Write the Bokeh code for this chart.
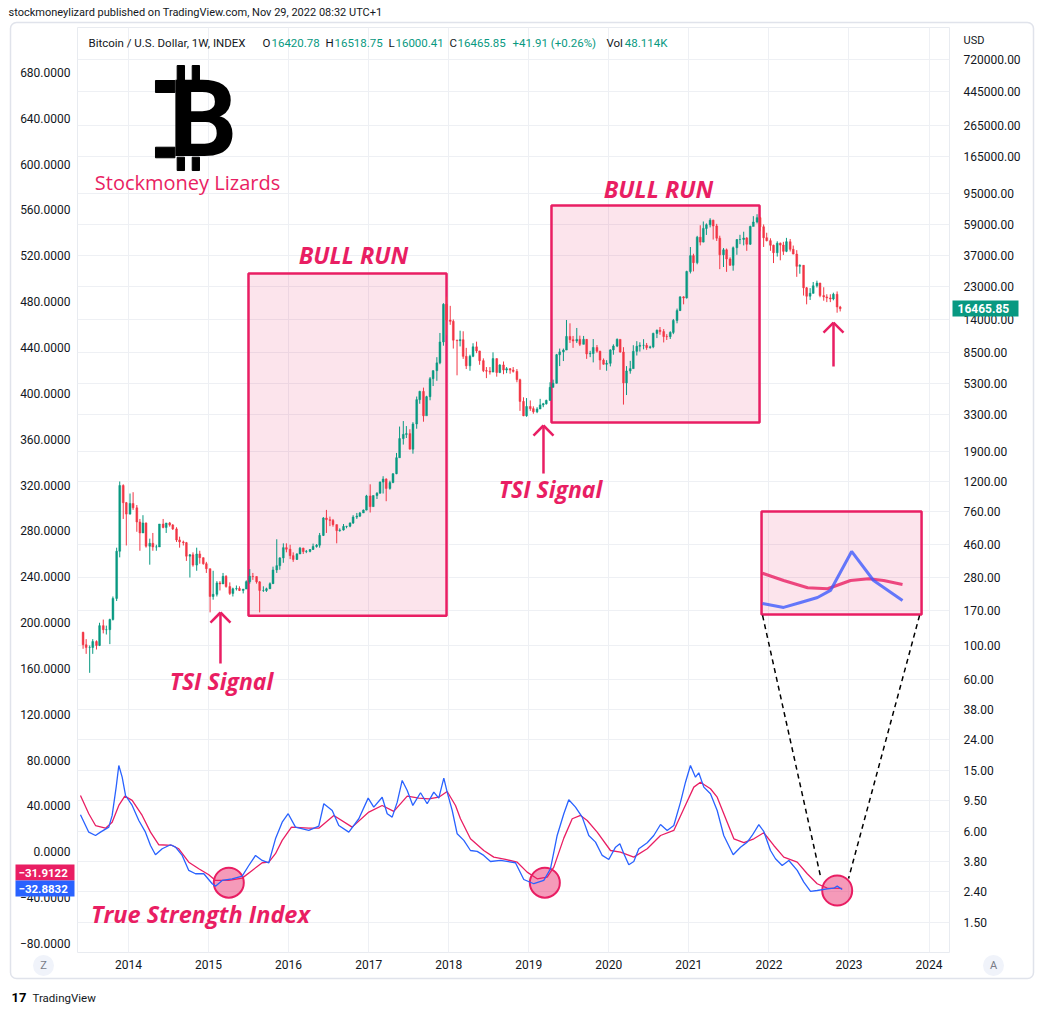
import numpy as np
import pandas as pd
from bokeh.plotting import figure
from bokeh.layouts import column
from bokeh.models import (Range1d, LinearScale, LinearAxis, FixedTicker, PrintfTickFormatter,
                          BoxAnnotation, Label, ColumnDataSource, GridBox)
from bokeh.embed import file_html
from bokeh.resources import INLINE

# ---------------- data ----------------
# semi-monthly OHLC candles (1st / 15th of each month), open = previous close
candle_first_date = "2013-06-01"
candle_first_open = 122.0
candle_high = [
    123, 110, 100, 110, 108, 141, 148, 135, 150, 210, 440, 1200, 1150, 880,
    1000, 1020, 840, 680, 720, 645, 505, 550, 460, 630, 680, 620, 650, 630, 600, 520, 490, 480, 400, 410, 440, 420, 380, 355,
    320, 310, 265, 265, 300, 290, 260, 240, 248, 245, 235, 268, 318, 300, 285, 265, 245, 240, 260, 330, 500, 380, 470, 470,
    460, 410, 405, 445, 440, 425, 430, 468, 465, 550, 700, 780, 705, 680, 625, 590, 630, 612, 645, 720, 745, 755, 785, 980,
    1150, 970, 1020, 1200, 1300, 1260, 1215, 1360, 1850, 2760, 3000, 2780, 2650, 2950, 4350, 4750, 4980, 4400, 5850, 6470, 7900, 11400, 17900, 19800,
    17200, 14000, 10300, 11800, 11700, 9100, 8200, 9760, 10000, 8700, 7760, 6800, 6800, 8500, 7760, 7100, 7400, 6800, 6700, 6800, 6600, 5700, 4300, 4250,
    4100, 3750, 3700, 4200, 3950, 4150, 5400, 5620, 8300, 9000, 9000, 13880, 13200, 10900, 12300, 10950, 10900, 10400, 8700, 10400, 9500, 8700, 7750, 7550,
    8900, 9600, 10500, 10300, 9190, 6900, 7470, 9470, 10070, 9900, 10380, 9800, 9400, 11450, 12000, 12480, 12100, 11200, 11700, 14100, 16500, 19900, 19900, 29300,
    41950, 37900, 49700, 58350, 61800, 60000, 64900, 63500, 59600, 49800, 41300, 41000, 35900, 42300, 47200, 50500, 52900, 48800, 58000, 67000, 69000, 66300, 59100, 52100,
    47900, 43500, 45800, 44900, 45400, 48200, 47400, 42900, 40000, 32300, 31900, 22900, 22500, 24700, 25200, 24400, 22800, 20500, 20500, 21000, 21400, 17200,
]
candle_low = [
    95, 88, 66, 88, 94, 99, 120, 118, 102, 146, 196, 380, 680, 455,
    726, 780, 560, 420, 550, 440, 340, 420, 420, 445, 590, 550, 605, 575, 480, 440, 455, 360, 280, 330, 310, 345, 340, 300,
    165, 200, 210, 230, 255, 240, 215, 210, 230, 228, 220, 235, 255, 270, 255, 165, 225, 225, 235, 255, 300, 315, 350, 410,
    370, 355, 365, 400, 400, 405, 410, 425, 440, 440, 525, 550, 610, 605, 470, 560, 570, 590, 600, 630, 680, 700, 745, 775,
    750, 820, 920, 1000, 1000, 890, 1060, 1170, 1340, 1720, 2100, 2320, 1950, 1830, 2670, 3900, 2970, 3500, 4110, 5100, 5520, 7100, 9400, 11000,
    12900, 9000, 6000, 9300, 7700, 6600, 6430, 7900, 8400, 7040, 6300, 5750, 6070, 6300, 5880, 6200, 6100, 6200, 6150, 6250, 5400, 3500, 3230, 3200,
    3500, 3350, 3380, 3600, 3700, 3850, 4100, 5000, 5300, 6900, 7450, 8800, 9800, 9100, 9800, 9350, 9600, 7700, 7900, 7300, 8450, 6520, 7050, 6430,
    6870, 8200, 9200, 8450, 3850, 4450, 6150, 6650, 8100, 8600, 8900, 8830, 8980, 9050, 10550, 11100, 9880, 10250, 10400, 11200, 13200, 15900, 17600, 19200,
    28100, 29000, 32300, 43000, 45000, 50400, 56500, 47000, 46000, 30000, 31000, 28800, 31600, 29300, 37300, 43800, 43000, 39600, 43300, 58000, 60000, 53300, 42000, 45700,
    39600, 32900, 36300, 34300, 37200, 38800, 39200, 37600, 26700, 28000, 20100, 17600, 18800, 20700, 22700, 19600, 18600, 18200, 18200, 18700, 15500, 15800,
]
candle_close = [
    101, 97, 97, 106, 100, 135, 127, 127, 148, 204, 417, 1129, 870, 732,
    860, 805, 650, 550, 640, 450, 470, 445, 445, 630, 598, 640, 620, 585, 495, 480, 475, 387, 395, 338, 400, 378, 345, 320,
    210, 217, 258, 254, 285, 244, 220, 236, 237, 230, 235, 263, 285, 284, 262, 230, 230, 236, 255, 314, 335, 377, 440, 430,
    390, 368, 400, 437, 415, 416, 428, 448, 457, 530, 690, 673, 665, 624, 570, 575, 607, 609, 640, 700, 710, 745, 778, 964,
    820, 970, 1005, 1190, 1245, 1080, 1180, 1350, 1720, 2300, 2450, 2480, 1960, 2870, 4150, 4700, 3250, 4340, 5700, 6440, 7250, 9950, 17600, 13880,
    13600, 10220, 10150, 10300, 8000, 6930, 8000, 9240, 8680, 7490, 6450, 6390, 6300, 7730, 6260, 7020, 6500, 6630, 6500, 6370, 5620, 4040, 3250, 3740,
    3620, 3450, 3600, 3830, 3900, 4100, 5000, 5320, 8200, 8560, 8800, 10820, 10300, 10090, 10350, 9600, 10350, 8300, 8350, 9150, 8650, 7560, 7100, 7200,
    8820, 9350, 10350, 8540, 5350, 6410, 6640, 8630, 9320, 9450, 9450, 9140, 9240, 11330, 11900, 11650, 10800, 10780, 11500, 13780, 16000, 19700, 19400, 28950,
    36800, 33100, 48700, 45200, 55600, 58800, 63000, 57700, 48000, 37300, 40200, 35000, 31800, 41500, 47000, 47100, 48100, 43800, 57300, 61300, 65500, 57000, 48300, 46200,
    43100, 38500, 44500, 43200, 39300, 45500, 40500, 37700, 31300, 31800, 22600, 19900, 20800, 23300, 24300, 20100, 19700, 19400, 19100, 20500, 16900, 16465.85,
]

# True Strength Index (blue) and its signal line (red), time in decimal years
tsi_t = [2013.400, 2013.504, 2013.588, 2013.650, 2013.754, 2013.796, 2013.846, 2013.879, 2013.921, 2013.963,
         2014.046, 2014.129, 2014.212, 2014.275, 2014.337, 2014.421, 2014.525, 2014.587, 2014.671, 2014.753, 2014.837, 2014.941,
         2015.046, 2015.087, 2015.170, 2015.295, 2015.420, 2015.503, 2015.587, 2015.670, 2015.753, 2015.836, 2015.920, 2015.995,
         2016.086, 2016.252, 2016.377, 2016.440, 2016.545, 2016.627, 2016.752, 2016.877, 2016.994,
         2017.064, 2017.169, 2017.232, 2017.294, 2017.357, 2017.419, 2017.482, 2017.552, 2017.648, 2017.731, 2017.814, 2017.876, 2017.939, 2017.981,
         2018.044, 2018.106, 2018.189, 2018.272, 2018.356, 2018.438, 2018.522, 2018.647, 2018.834, 2018.938,
         2019.063, 2019.188, 2019.272, 2019.355, 2019.438, 2019.500, 2019.584, 2019.668, 2019.750, 2019.834, 2019.918,
         2020.000, 2020.084, 2020.138, 2020.188, 2020.250, 2020.312, 2020.375, 2020.480, 2020.562, 2020.646, 2020.729, 2020.812, 2020.896, 2020.958,
         2021.020, 2021.083, 2021.124, 2021.187, 2021.270, 2021.354, 2021.436, 2021.554, 2021.645, 2021.729, 2021.791, 2021.874, 2021.936,
         2022.020, 2022.082, 2022.166, 2022.249, 2022.354, 2022.436, 2022.520, 2022.603, 2022.728, 2022.811, 2022.853, 2022.915]
tsi_v = [32.3, 17.1, 14.2, 17.1, 21.5, 31.7, 56.4, 75.3, 65.1, 49.1,
         40.4, 27.3, 17.1, 5.5, -2.6, 2.6, 6.1, 4.0, -3.2, -16.3, -19.2, -19.2,
         -27.9, -30.0, -25.0, -23.6, -21.3, -12.0, -3.2, -7.6, -9.6, 11.3, 25.8, 33.2,
         21.5, 18.6, 22.3, 41.9, 36.0, 22.9, 17.1, 28.8, 46.8,
         38.9, 47.6, 33.2, 30.2, 43.3, 62.2, 53.5, 40.4, 51.5, 41.9, 52.0, 46.8, 64.2, 52.0,
         36.0, 15.7, 9.9, 1.1, 0.3, -3.2, -8.5, -7.6, -9.6, -24.2,
         -27.9, -25.0, -14.8, 14.2, 33.2, 45.4, 38.9, 30.2, 14.2, 8.4, -3.2,
         -6.7, 4.0, 7.0, -1.7, -11.3, -8.5, 2.6, 7.9, 14.2, 23.8, 18.6, 22.9, 43.3, 60.7,
         75.3, 65.1, 68.9, 56.4, 50.6, 36.0, 14.2, -2.6, 4.0, 8.4, 14.2, 23.6, 17.7,
         1.1, -6.1, -12.0, -7.6, -16.3, -26.5, -34.6, -33.8, -32.3, -31.8, -30.0, -32.8832]
sig_t = [2013.400, 2013.504, 2013.588, 2013.713, 2013.796, 2013.879, 2013.954,
         2014.046, 2014.171, 2014.275, 2014.379, 2014.546, 2014.628, 2014.753, 2014.878,
         2015.003, 2015.087, 2015.253, 2015.420, 2015.545, 2015.670, 2015.753, 2015.836, 2015.920,
         2016.036, 2016.252, 2016.377, 2016.565, 2016.794,
         2017.002, 2017.169, 2017.314, 2017.482, 2017.627, 2017.752, 2017.876, 2017.981,
         2018.085, 2018.147, 2018.272, 2018.438, 2018.563, 2018.709, 2018.856, 2018.980,
         2019.105, 2019.230, 2019.313, 2019.438, 2019.543, 2019.647, 2019.730, 2019.855,
         2020.021, 2020.146, 2020.312, 2020.480, 2020.646, 2020.812, 2020.937,
         2021.062, 2021.145, 2021.270, 2021.354, 2021.479, 2021.562, 2021.687, 2021.812, 2021.936,
         2022.061, 2022.186, 2022.354, 2022.479, 2022.603, 2022.728, 2022.915]
sig_v = [49.1, 33.2, 22.9, 20.6, 25.8, 40.4, 48.5,
         44.8, 31.7, 17.1, 6.1, 5.5, 2.6, -9.1, -14.8,
         -20.1, -25.0, -25.0, -23.0, -16.3, -9.6, -9.1, -1.7, 9.9,
         21.5, 20.6, 20.6, 31.7, 21.5,
         34.6, 40.4, 35.2, 48.5, 46.8, 46.2, 47.6, 52.6,
         40.4, 28.8, 11.3, 1.1, -4.7, -6.7, -9.1, -17.8,
         -23.6, -22.2, -13.4, 11.9, 28.8, 31.7, 27.3, 17.1,
         1.1, -0.3, -4.7, 2.6, 14.2, 18.6, 37.5,
         56.4, 60.7, 55.0, 47.6, 25.8, 11.3, 7.9, 11.3, 16.6,
         5.5, -4.7, -9.1, -19.2, -27.9, -31.8, -31.9122]

# magnified view of the last weeks (inset): position across the inset, TSI value
inset_blue_f = [0.006, 0.138, 0.244, 0.350, 0.431, 0.563, 0.700, 0.881]
inset_blue_v = [-33.06, -33.30, -33.00, -32.70, -32.27, -29.91, -31.67, -32.88]
inset_red_f = [0.006, 0.138, 0.288, 0.413, 0.556, 0.669, 0.763, 0.881]
inset_red_v = [-31.23, -31.67, -32.11, -32.17, -31.67, -31.56, -31.67, -31.91]
INSET_LO, INSET_HI = -33.73, -27.49

price_ticks = [720000, 445000, 265000, 165000, 95000, 59000, 37000, 23000, 14000, 8500, 5300, 3300,
               1900, 1200, 760, 460, 280, 170, 100, 60, 38, 24, 15, 9.5, 6, 3.8, 2.4, 1.5]
tsi_ticks = list(range(-80, 681, 40))
year_ticks = list(range(2014, 2025))

last_tsi, last_signal, last_close = -32.8832, -31.9122, 16465.85

# ---------------- styling constants ----------------
UP, DOWN = "#089981", "#f23645"
BLUE, PINK = "#2962ff", "#e91e63"
TXT = "#131722"
FONT = "Roboto"
W, H = 1045, 1015

X_RANGE = (2013.363, 2024.256)
PRICE_RANGE = (0.9515, 1169500.0)
TSI_RANGE = (-87.9, 719.2)


def dec_year(idx):
    days = np.where(idx.is_leap_year, 366.0, 365.0)
    return np.asarray(idx.year + (idx.dayofyear - 1 + idx.hour / 24.0) / days, dtype=float)


dates = pd.date_range(candle_first_date, periods=len(candle_close), freq="SMS")
cx = dec_year(dates + pd.Timedelta(days=7))
opens = [candle_first_open] + candle_close[:-1]
up = [c >= o for o, c in zip(opens, candle_close)]
src = ColumnDataSource(dict(
    x=cx, o=opens, h=candle_high, l=candle_low, c=candle_close,
    top=[max(o, c) for o, c in zip(opens, candle_close)],
    bot=[min(o, c) for o, c in zip(opens, candle_close)],
    col=[UP if u else DOWN for u in up],
))

p = figure(width=W, height=H, x_range=Range1d(*X_RANGE), y_range=Range1d(*PRICE_RANGE),
           y_axis_type="log", y_axis_location="right", output_backend="svg", toolbar_location=None,
           min_border_left=77, min_border_right=96, min_border_top=27, min_border_bottom=63)
p.extra_y_ranges = {"tsi": Range1d(*TSI_RANGE)}
p.extra_y_scales = {"tsi": LinearScale()}
p.background_fill_color = "white"
p.border_fill_color = "white"
p.outline_line_color = "#e8ebf0"

# axes
ra = p.yaxis[0]
ra.ticker = FixedTicker(ticks=price_ticks, minor_ticks=[])
ra.formatter = PrintfTickFormatter(format="%.2f")
ra.major_label_standoff = 14
xa = p.xaxis[0]
xa.ticker = FixedTicker(ticks=year_ticks, minor_ticks=[])
xa.formatter = PrintfTickFormatter(format="%d")
xa.major_label_standoff = 7
la = LinearAxis(y_range_name="tsi", ticker=FixedTicker(ticks=tsi_ticks, minor_ticks=[]),
                formatter=PrintfTickFormatter(format="%.4f"),
                major_label_overrides={-40: "\u221240.0000", -80: "\u221280.0000"})
la.major_label_standoff = 7
p.add_layout(la, "left")
for ax in (ra, xa, la):
    ax.axis_line_color = None
    ax.major_tick_line_color = None
    ax.minor_tick_line_color = None
    ax.major_tick_out = 0
    ax.major_tick_in = 0
    ax.major_label_text_color = TXT
    ax.major_label_text_font = FONT
    ax.major_label_text_font_size = "12px"

p.ygrid[0].ticker = FixedTicker(ticks=price_ticks, minor_ticks=[])
p.xgrid[0].ticker = FixedTicker(ticks=year_ticks, minor_ticks=[])
for g in (p.xgrid[0], p.ygrid[0]):
    g.grid_line_color = "#eef0f4"
    g.grid_line_width = 1

# pink boxes
for b in (dict(left=2015.499, right=2017.973, bottom=157.0, top=28100.0),
          dict(left=2019.284, right=2021.883, bottom=2935.0, top=78700.0)):
    p.add_layout(BoxAnnotation(**b, fill_color=PINK, fill_alpha=0.12, line_color=PINK,
                               line_alpha=1.0, line_width=2.5, level="underlay"))
inset = dict(left=2021.908, right=2023.907, bottom=207.0, top=296.9)
p.add_layout(BoxAnnotation(**inset, y_range_name="tsi", fill_color=PINK, fill_alpha=0.12,
                           line_color=PINK, line_alpha=1.0, line_width=2.5, level="underlay"))

# candles
p.segment(x0="x", y0="l", x1="x", y1="h", color="col", line_width=1, source=src)
p.vbar(x="x", width=1 / 24 * 0.55, top="top", bottom="bot", fill_color="col", line_color="col",
       line_width=0.5, source=src)

# TSI circles (behind lines)
p.scatter(x=[2015.253, 2019.201, 2022.853], y=[-27.0, -27.0, -33.8], y_range_name="tsi", size=30,
          fill_color=PINK, fill_alpha=0.45, line_color=PINK, line_width=2)

# TSI lines
p.line(sig_t, sig_v, y_range_name="tsi", color=PINK, line_width=1.3)
p.line(tsi_t, tsi_v, y_range_name="tsi", color=BLUE, line_width=1.3)


# inset lines (magnified)
def inset_map(fr, vals):
    xs = [inset["left"] + f * (inset["right"] - inset["left"]) for f in fr]
    ys = [inset["bottom"] + (v - INSET_LO) / (INSET_HI - INSET_LO) * (inset["top"] - inset["bottom"]) for v in vals]
    return xs, ys


ix, iy = inset_map(inset_red_f, inset_red_v)
p.line(ix, iy, y_range_name="tsi", color=PINK, line_width=3, line_alpha=0.8)
ix, iy = inset_map(inset_blue_f, inset_blue_v)
p.line(ix, iy, y_range_name="tsi", color="#3d5afe", line_width=3, line_alpha=0.8)

# dashed connectors
p.segment(x0=[2021.921, 2023.882], y0=[206.2, 206.2], x1=[2022.645, 2022.995], y1=[-21.6, -23.3],
          y_range_name="tsi", line_color="black", line_width=1.5, line_dash="5 4")

# arrows (shaft + open chevron head)
HEAD_DX, HEAD_RATIO = 0.125, 0.859
for xa_, y0, y1 in ((2015.149, 76.0, 164.7), (2019.184, 1354.0, 2804.0), (2022.807, 6859.0, 13360.0)):
    p.segment(x0=[xa_, xa_, xa_], y0=[y0, y1, y1], x1=[xa_, xa_ - HEAD_DX, xa_ + HEAD_DX],
              y1=[y1, y1 * HEAD_RATIO, y1 * HEAD_RATIO], line_color=PINK, line_width=2.5)

# bitcoin logo (B with stubs and serifs)
p.quad(left=[2014.608, 2014.796, 2014.608, 2014.796, 2014.337, 2014.337],
       right=[2014.700, 2014.887, 2014.700, 2014.887, 2014.580, 2014.580],
       top=[657400, 657400, 163700, 163700, 523600, 190500],
       bottom=[508000, 508000, 133800, 133800, 436700, 162300],
       fill_color="black", line_color="black")


def lab(fig, x, y, text, **kw):
    args = dict(x=x, y=y, text=text, text_font=FONT, text_font_size="12px", text_color=TXT,
                text_align="left", text_baseline="middle")
    args.update(kw)
    fig.add_layout(Label(**args))


lab(p, 2014.931, 292200, "B", text_font_style="bold", text_font_size="108px", text_color="black",
    text_align="center")

# text annotations
lab(p, 2014.737, 111600, "Stockmoney Lizards", text_font="Open Sans", text_font_size="20px",
    text_color=PINK, text_align="center")
for (x, y) in ((2016.811, 37460), (2020.621, 101860)):
    lab(p, x, y, "BULL RUN", text_font="Open Sans", text_font_size="23.5px", text_font_style="bold italic",
        text_color=PINK, text_align="center")
for (x, y) in ((2015.162, 57.9), (2019.272, 1063)):
    lab(p, x, y, "TSI Signal", text_font="Open Sans", text_font_size="23px", text_font_style="bold italic",
        text_color=PINK, text_align="center")
lab(p, 2014.899, -54.7, "True Strength Index", y_range_name="tsi", text_font="Open Sans",
    text_font_size="23.5px", text_font_style="bold italic", text_color=PINK, text_align="center")

# legend row (inside the chart pane)
legend_parts = [
    (2013.500, "Bitcoin / U.S. Dollar, 1W, INDEX", TXT), (2015.674, "O", TXT), (2015.786, "16420.78", UP),
    (2016.461, "H", TXT), (2016.573, "16518.75", UP), (2017.248, "L", TXT), (2017.335, "16000.41", UP),
    (2018.010, "C", TXT), (2018.110, "16465.85", UP), (2018.797, "+41.91 (+0.26%)", UP),
    (2019.971, "Vol", TXT), (2020.200, "48.114K", UP),
]
for x, t, c in legend_parts:
    lab(p, x, 931500, t, text_color=c, text_font_size="11.5px")

# ---------------- overlay for the widget chrome outside the chart pane ----------------
ov = figure(width=W, height=H, x_range=Range1d(0, W), y_range=Range1d(H, 0), output_backend="svg",
            toolbar_location=None, x_axis_location=None, y_axis_location=None, min_border=0)
ov.background_fill_color = None
ov.border_fill_color = None
ov.outline_line_color = None
ov.xgrid.visible = False
ov.ygrid.visible = False

ov.add_layout(BoxAnnotation(left=10, right=1033, top=22, bottom=978, fill_alpha=0,
                            line_color="#e0e3eb", line_alpha=1.0, line_width=1.5, border_radius=6))
lab(ov, 8, 12, "stockmoneylizard published on TradingView.com, Nov 29, 2022 08:32 UTC+1", text_font_size="11px")
lab(ov, 963, 40, "USD", text_font_size="11px")
# current-value tags on the scales
ov.quad(left=[15, 15, 952], right=[74, 74, 1018], top=[864, 880, 300], bottom=[880, 896, 316],
        fill_color=[PINK, BLUE, UP], line_color=None)
lab(ov, 18, 872, "\u2212%.4f" % abs(last_signal), text_color="white", text_font_style="bold", text_font_size="11.5px")
lab(ov, 18, 888, "\u2212%.4f" % abs(last_tsi), text_color="white", text_font_style="bold", text_font_size="11.5px")
lab(ov, 957, 308, "%.2f" % last_close, text_color="white", text_font_style="bold", text_font_size="12px")
# time-axis buttons
ov.scatter(x=[43, 993], y=[965, 965], size=21, fill_color="#f0f3fa", line_color=None)
lab(ov, 43, 965, "Z", text_align="center", text_color="#787b86", text_font_size="11px")
lab(ov, 993, 965, "A", text_align="center", text_color="#787b86", text_font_size="11px")
# footer
lab(ov, 11, 997, "17", text_font_style="bold", text_color="black", text_font_size="13px")
lab(ov, 32, 997, "TradingView", text_font_size="11.5px")

if "frame_align" in ov.properties():
    ov.frame_align = False
    p.frame_align = False
    layout = GridBox(children=[(p, 0, 0), (ov, 0, 0)])
else:
    ov.styles = {"position": "absolute", "left": "0px", "top": "0px"}
    layout = column(p, ov)

open("out.html", "w").write(file_html(layout, INLINE))
